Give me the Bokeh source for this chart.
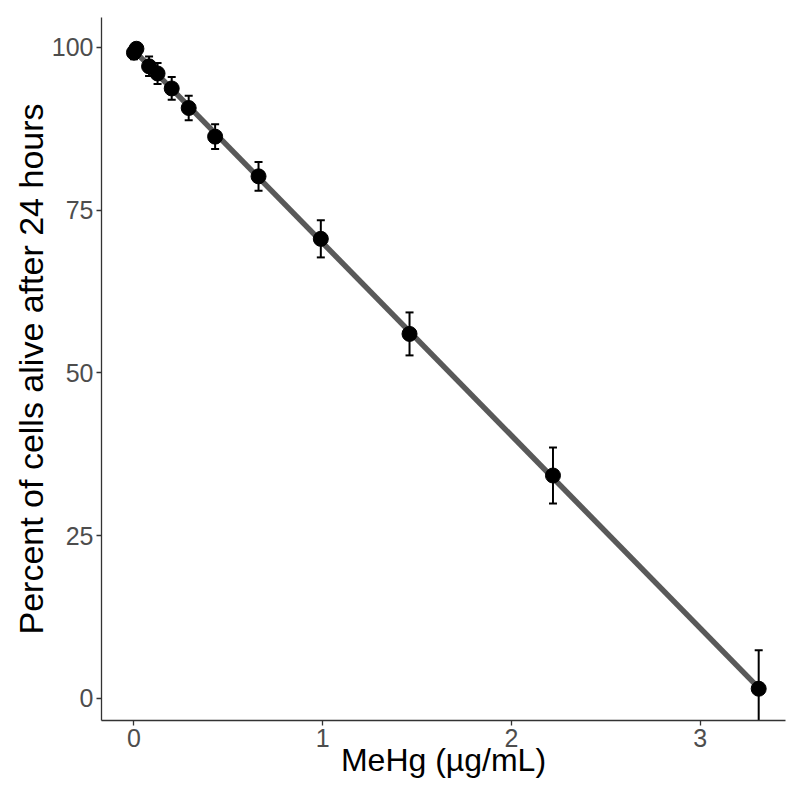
import numpy as np
from bokeh.plotting import figure
from bokeh.models import ColumnDataSource, Whisker, TeeHead, Range1d, FixedTicker
from bokeh.embed import file_html
from bokeh.resources import INLINE

# Data
dose = [0.0, 0.013, 0.08, 0.125, 0.20, 0.29, 0.43, 0.66, 0.99, 1.46, 2.22, 3.31]
alive = [99.2, 99.8, 97.1, 96.0, 93.7, 90.7, 86.3, 80.2, 70.6, 56.0, 34.25, 1.5]
err = [1.0, 0.9, 1.5, 1.6, 1.75, 1.9, 1.9, 2.2, 2.85, 3.3, 4.3, 5.9]
x_ticks = [0, 1, 2, 3]
y_ticks = [0, 25, 50, 75, 100]

FONT = "Liberation Sans"

src = ColumnDataSource(dict(
    x=dose, y=alive,
    lo=[a - e for a, e in zip(alive, err)],
    hi=[a + e for a, e in zip(alive, err)],
))

p = figure(width=792, height=801, output_backend="svg", toolbar_location=None,
           x_range=Range1d(-0.172, 3.452), y_range=Range1d(-3.38, 104.6),
           min_border_left=101, min_border_right=7, min_border_top=17, min_border_bottom=81)
p.outline_line_color = None
p.xgrid.visible = False
p.ygrid.visible = False
p.background_fill_color = "white"
p.border_fill_color = "white"

# fitted line
slope, icpt = np.polyfit(dose, alive, 1)
lx = [min(dose), max(dose)]
ly = [icpt + slope * v for v in lx]
p.line(lx, ly, line_color="#595959", line_width=5.5)

# error bars
wh = Whisker(source=src, base="x", upper="hi", lower="lo", dimension="height",
             line_color="black", line_width=2,
             upper_head=TeeHead(size=8, line_color="black", line_width=2),
             lower_head=TeeHead(size=8, line_color="black", line_width=2))
p.add_layout(wh)

p.scatter("x", "y", source=src, size=15, fill_color="black", line_color="black")

for ax in (p.xaxis, p.yaxis):
    ax.axis_line_color = "#333333"
    ax.axis_line_width = 1.3
    ax.major_tick_line_color = "#333333"
    ax.major_tick_line_width = 1.3
    ax.major_tick_out = 5
    ax.major_tick_in = 0
    ax.minor_tick_line_color = None
    ax.major_label_text_font = FONT
    ax.major_label_text_font_size = "25px"
    ax.major_label_text_color = "#4D4D4D"
    ax.axis_label_text_font = FONT
    ax.axis_label_text_font_style = "normal"
    ax.axis_label_text_color = "black"

p.xaxis.axis_label_text_font_size = "32px"
p.yaxis.axis_label_text_font_size = "34px"
p.xaxis.ticker = FixedTicker(ticks=x_ticks)
p.yaxis.ticker = FixedTicker(ticks=y_ticks)
p.xaxis.major_label_standoff = 3
p.yaxis.major_label_standoff = 3
p.xaxis.axis_label = "MeHg (\u00b5g/mL)"
p.yaxis.axis_label = "Percent of cells alive after 24 hours"
p.xaxis.axis_label_standoff = -8
p.yaxis.axis_label_standoff = -1

open("out.html", "w").write(file_html(p, INLINE))
